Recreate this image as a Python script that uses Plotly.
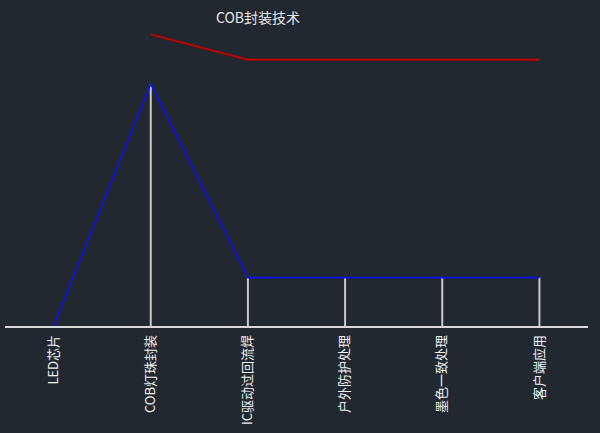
# %% 导入
import plotly.graph_objects as go

# %% 数据
etapas = ["LED芯片", "COB灯珠封装", "IC驱动过回流焊", "户外防护处理", "墨色一致处理", "客户端应用"]
valor_azul = [0, 100, 20, 20, 20, 20]
valor_vermelho = [None, 120.5, 110, 110, 110, 110]
titulo = "COB封装技术"

x_idx = list(range(len(etapas)))

# %% 图
fig = go.Figure()

# linhas verticais brancas (da base até a linha azul)
xs, ys = [], []
for i, v in zip(x_idx, valor_azul):
    if v:
        xs += [i, i, None]
        ys += [0, v, None]
fig.add_trace(go.Scatter(x=xs, y=ys, mode="lines",
                         line=dict(color="#c8c8c8", width=2),
                         hoverinfo="skip", showlegend=False))

fig.add_trace(go.Scatter(x=x_idx, y=valor_azul, mode="lines",
                         line=dict(color="#1010f4", width=1.6),
                         showlegend=False))

fig.add_trace(go.Scatter(x=x_idx, y=valor_vermelho, mode="lines",
                         line=dict(color="#c40000", width=2),
                         connectgaps=False, showlegend=False))

fig.update_layout(
    width=600, height=433,
    paper_bgcolor="#212830", plot_bgcolor="#212830",
    margin=dict(l=5, r=12, t=0, b=107),
    title=dict(text=titulo, x=258 / 600, xref="container", xanchor="center",
               y=1 - 18 / 433, yref="container", yanchor="middle",
               font=dict(family="Noto Sans CJK SC", size=14, color="#e6e6e6")),
    font=dict(family="Noto Sans CJK SC", color="#f0f0f0"),
)
fig.update_xaxes(range=[-0.5, 5.5], tickvals=x_idx, ticktext=etapas,
                 tickangle=-90, showgrid=False, zeroline=False,
                 showline=True, linecolor="#d8d8d8", linewidth=1.5,
                 ticks="", ticklabelstandoff=2,
                 tickfont=dict(size=13, color="#f0f0f0"))
fig.update_yaxes(range=[0, 134.7], visible=False, showgrid=False, zeroline=False)

# tira a margem do body para a figura ocupar a janela toda
fig.write_html("out.html", config={"displayModeBar": False},
               post_script="document.body.style.margin='0';")
